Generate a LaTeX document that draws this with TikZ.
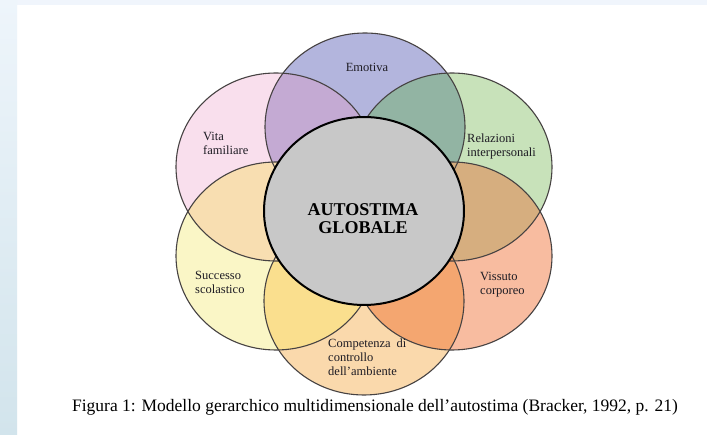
\documentclass[tikz,border=0pt]{standalone}
\usepackage{fontspec}
\setmainfont{Liberation Serif}
\definecolor{fillE}{RGB}{179,181,221}
\definecolor{fillF}{RGB}{249,223,237}
\definecolor{fillR}{RGB}{200,226,186}
\definecolor{fillS}{RGB}{250,246,198}
\definecolor{fillV}{RGB}{248,188,160}
\definecolor{fillK}{RGB}{250,217,172}
\definecolor{fillFE}{RGB}{196,170,211}
\definecolor{fillER}{RGB}{146,180,163}
\definecolor{fillRV}{RGB}{214,174,127}
\definecolor{fillVK}{RGB}{244,166,112}
\definecolor{fillKS}{RGB}{250,223,142}
\definecolor{fillSF}{RGB}{248,222,177}
\definecolor{fillC}{RGB}{200,200,200}
\definecolor{edgeC}{RGB}{70,66,66}
\definecolor{txtC}{RGB}{30,28,36}
\definecolor{bandTop}{RGB}{240,245,252}
\definecolor{stripTop}{RGB}{238,245,251}
\definecolor{stripBot}{RGB}{210,228,236}
\tikzset{
  rad/.style={x radius=100pt, y radius=94pt},
  petal/.style={draw=edgeC, line width=1.1pt},
  lbl/.style={font=\fontsize{12.5}{14}\selectfont, text=txtC, inner sep=0pt, anchor=west, align=left},
}
\begin{document}
\begin{tikzpicture}[x=1pt,y=-1pt]
\useasboundingbox (0,0) rectangle (707,435);
\fill[white] (0,0) rectangle (707,435);
\fill[bandTop] (0,0) rectangle (707,5);
\shade[top color=stripTop, bottom color=stripBot] (0,0) rectangle (17,435);

\coordinate (pC) at (364,211);
\coordinate (pE) at (365,127);
\coordinate (pR) at (452,167);
\coordinate (pV) at (452,256);
\coordinate (pK) at (364,301);
\coordinate (pS) at (276,256);
\coordinate (pF) at (276,167);

% petal fills
\fill[fillE] (pE) ellipse[rad];
\fill[fillF] (pF) ellipse[rad];
\fill[fillR] (pR) ellipse[rad];
\fill[fillS] (pS) ellipse[rad];
\fill[fillV] (pV) ellipse[rad];
\fill[fillK] (pK) ellipse[rad];

% overlaps
\begin{scope}\clip (pF) ellipse[rad]; \fill[fillFE] (pE) ellipse[rad];\end{scope}
\begin{scope}\clip (pE) ellipse[rad]; \fill[fillER] (pR) ellipse[rad];\end{scope}
\begin{scope}\clip (pR) ellipse[rad]; \fill[fillRV] (pV) ellipse[rad];\end{scope}
\begin{scope}\clip (pV) ellipse[rad]; \fill[fillVK] (pK) ellipse[rad];\end{scope}
\begin{scope}\clip (pK) ellipse[rad]; \fill[fillKS] (pS) ellipse[rad];\end{scope}
\begin{scope}\clip (pS) ellipse[rad]; \fill[fillSF] (pF) ellipse[rad];\end{scope}

% outlines
\draw[petal] (pE) ellipse[rad];
\draw[petal] (pF) ellipse[rad];
\draw[petal] (pR) ellipse[rad];
\draw[petal] (pS) ellipse[rad];
\draw[petal] (pV) ellipse[rad];
\draw[petal] (pK) ellipse[rad];

% centre
\filldraw[fill=fillC, draw=black, line width=2pt] (pC) ellipse[rad];

% labels
\node[lbl, anchor=center] (tE) at (367,67) {Emotiva};
\node[lbl] (tF) at (203,143) {Vita\\familiare};
\node[lbl] (tR) at (467,146) {Relazioni\\interpersonali};
\node[lbl] (tS) at (195,282) {Successo\\scolastico};
\node[lbl] (tV) at (480,285) {Vissuto\\corporeo};
\node[lbl] (tK) at (328,357) {Competenza\hspace{6pt}di\\controllo\\dell’ambiente};
\node[font=\fontsize{18}{18}\selectfont\bfseries, text=black, align=center, inner sep=0pt] (tC) at (363,219) {AUTOSTIMA\\GLOBALE};

\node[font=\fontsize{17.5}{20}\selectfont, anchor=base, inner sep=0pt] (cap) at (375,412) {Figura 1: Modello gerarchico multidimensionale dell’autostima (Bracker, 1992, p. 21)};
\end{tikzpicture}
\end{document}
